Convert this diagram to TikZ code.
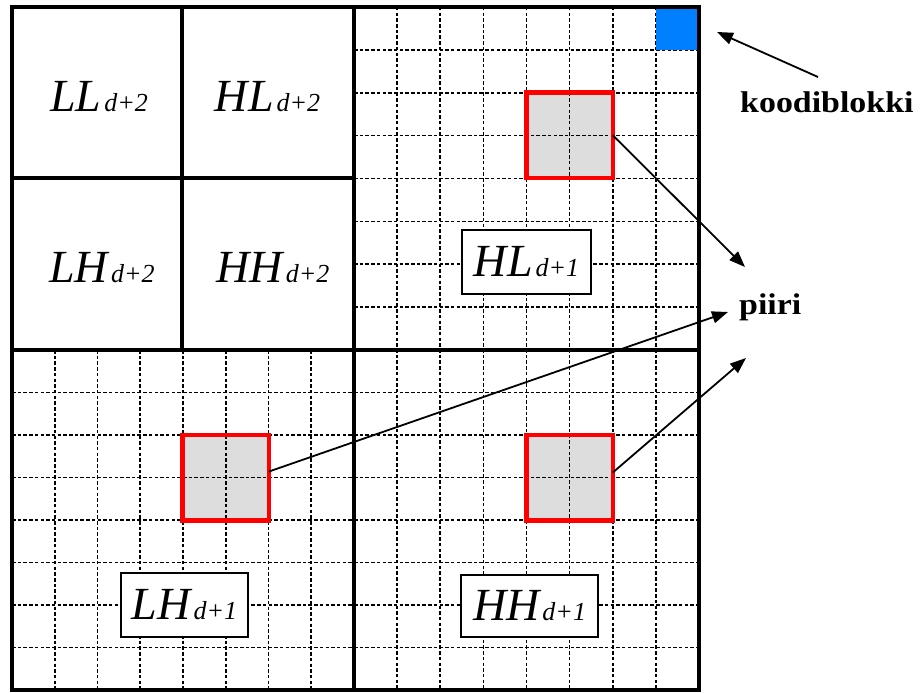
\documentclass[tikz,border=0pt]{standalone}
\usepackage{fontspec}
\setmainfont{Liberation Serif}
\usetikzlibrary{arrows.meta}
\definecolor{cellgray}{RGB}{221,221,221}
\definecolor{blockblue}{RGB}{0,128,255}
\newcommand{\sublbl}[1]{\kern3pt{\fontsize{26}{26}\selectfont #1}}
\begin{document}
\begin{tikzpicture}[x=1pt,y=-1pt,
  heavy/.style={line width=3.6pt},
  gridline/.style={line width=1.7pt, dash pattern=on 3.5pt off 2.2pt},
  redfill/.style={fill=cellgray, minimum width=86pt, minimum height=85pt, inner sep=0pt},
  redline/.style={draw=red, line width=4.6pt},
  labelbox/.style={draw, line width=1.9pt, fill=white, inner sep=0pt},
  biglabel/.style={font=\fontsize{46}{46}\selectfont\itshape, inner sep=0pt},
  pointer/.style={line width=1.8pt, -{Triangle[length=16pt,width=12pt]}},
  word/.style={font=\fontsize{30}{30}\selectfont\bfseries, inner sep=0pt}
]
\useasboundingbox (0,0) rectangle (922,693);
\fill[white] (0,0) rectangle (922,693);

% gray fills of the code-block circles (below the grid)
\node[redfill] (r1) at (569.6,135.3) {};
\node[redfill] (r2) at (225.8,477.5) {};
\node[redfill] (r3) at (569.6,477.5) {};

% dashed grid in the three detail quadrants
\foreach \i in {1,...,7} {
  \draw[gridline] ({354+\i*345/8},7) -- ({354+\i*345/8},690);
  \draw[gridline] (354,{7+\i*343/8}) -- (699,{7+\i*343/8});
  \draw[gridline] ({12+\i*342/8},350) -- ({12+\i*342/8},690);
  \draw[gridline] (12,{350+\i*340/8}) -- (699,{350+\i*340/8});
}

% blue code block
\node[fill=blockblue, minimum width=43.1pt, minimum height=42.9pt, inner sep=0pt] (blk) at (677.4,28.4) {};

% red outlines
\draw[redline] (r1.north west) rectangle (r1.south east);
\draw[redline] (r2.north west) rectangle (r2.south east);
\draw[redline] (r3.north west) rectangle (r3.south east);

% heavy frame
\draw[heavy] (12,7) rectangle (699,690);
\draw[heavy] (354,7) -- (354,690);
\draw[heavy] (12,350) -- (699,350);
\draw[heavy] (182,7) -- (182,350);
\draw[heavy] (12,178) -- (354,178);

% subband labels
\node[biglabel, anchor=base] (ll2) at (99,112) {LL\sublbl{d+2}};
\node[biglabel, anchor=base] (hl2) at (267.5,112) {HL\sublbl{d+2}};
\node[biglabel, anchor=base] (lh2) at (102,282) {LH\sublbl{d+2}};
\node[biglabel, anchor=base] (hh2) at (273,282) {HH\sublbl{d+2}};

\node[labelbox, biglabel, draw, fill=white, minimum width=129pt, minimum height=64pt] (hl1) at (526.5,262) {HL\sublbl{d+1}};
\node[labelbox, biglabel, draw, fill=white, minimum width=127pt, minimum height=64pt] (lh1) at (184.5,605) {LH\sublbl{d+1}};
\node[labelbox, biglabel, draw, fill=white, minimum width=137pt, minimum height=62pt] (hh1) at (529.5,606) {HH\sublbl{d+1}};

% side words
\node[word, anchor=base west] (kood) at (740,113) {\scalebox{1.13}[1]{koodiblokki}};
\node[word, anchor=base west] (piiri) at (739,314) {\scalebox{1.13}[1]{piiri}};

\coordinate (k0) at (818,77);
\coordinate (k1) at (717,32);
\coordinate (t1) at (745,267);
\coordinate (t2) at (728,312);
\coordinate (t3) at (746,358);

\draw[pointer] (k0) -- (k1);
\draw[pointer] (r1.east) -- (t1);
\draw[pointer] ([yshift=6pt]r2.east) -- (t2);
\draw[pointer] ([yshift=5pt]r3.east) -- (t3);
\end{tikzpicture}
\end{document}
